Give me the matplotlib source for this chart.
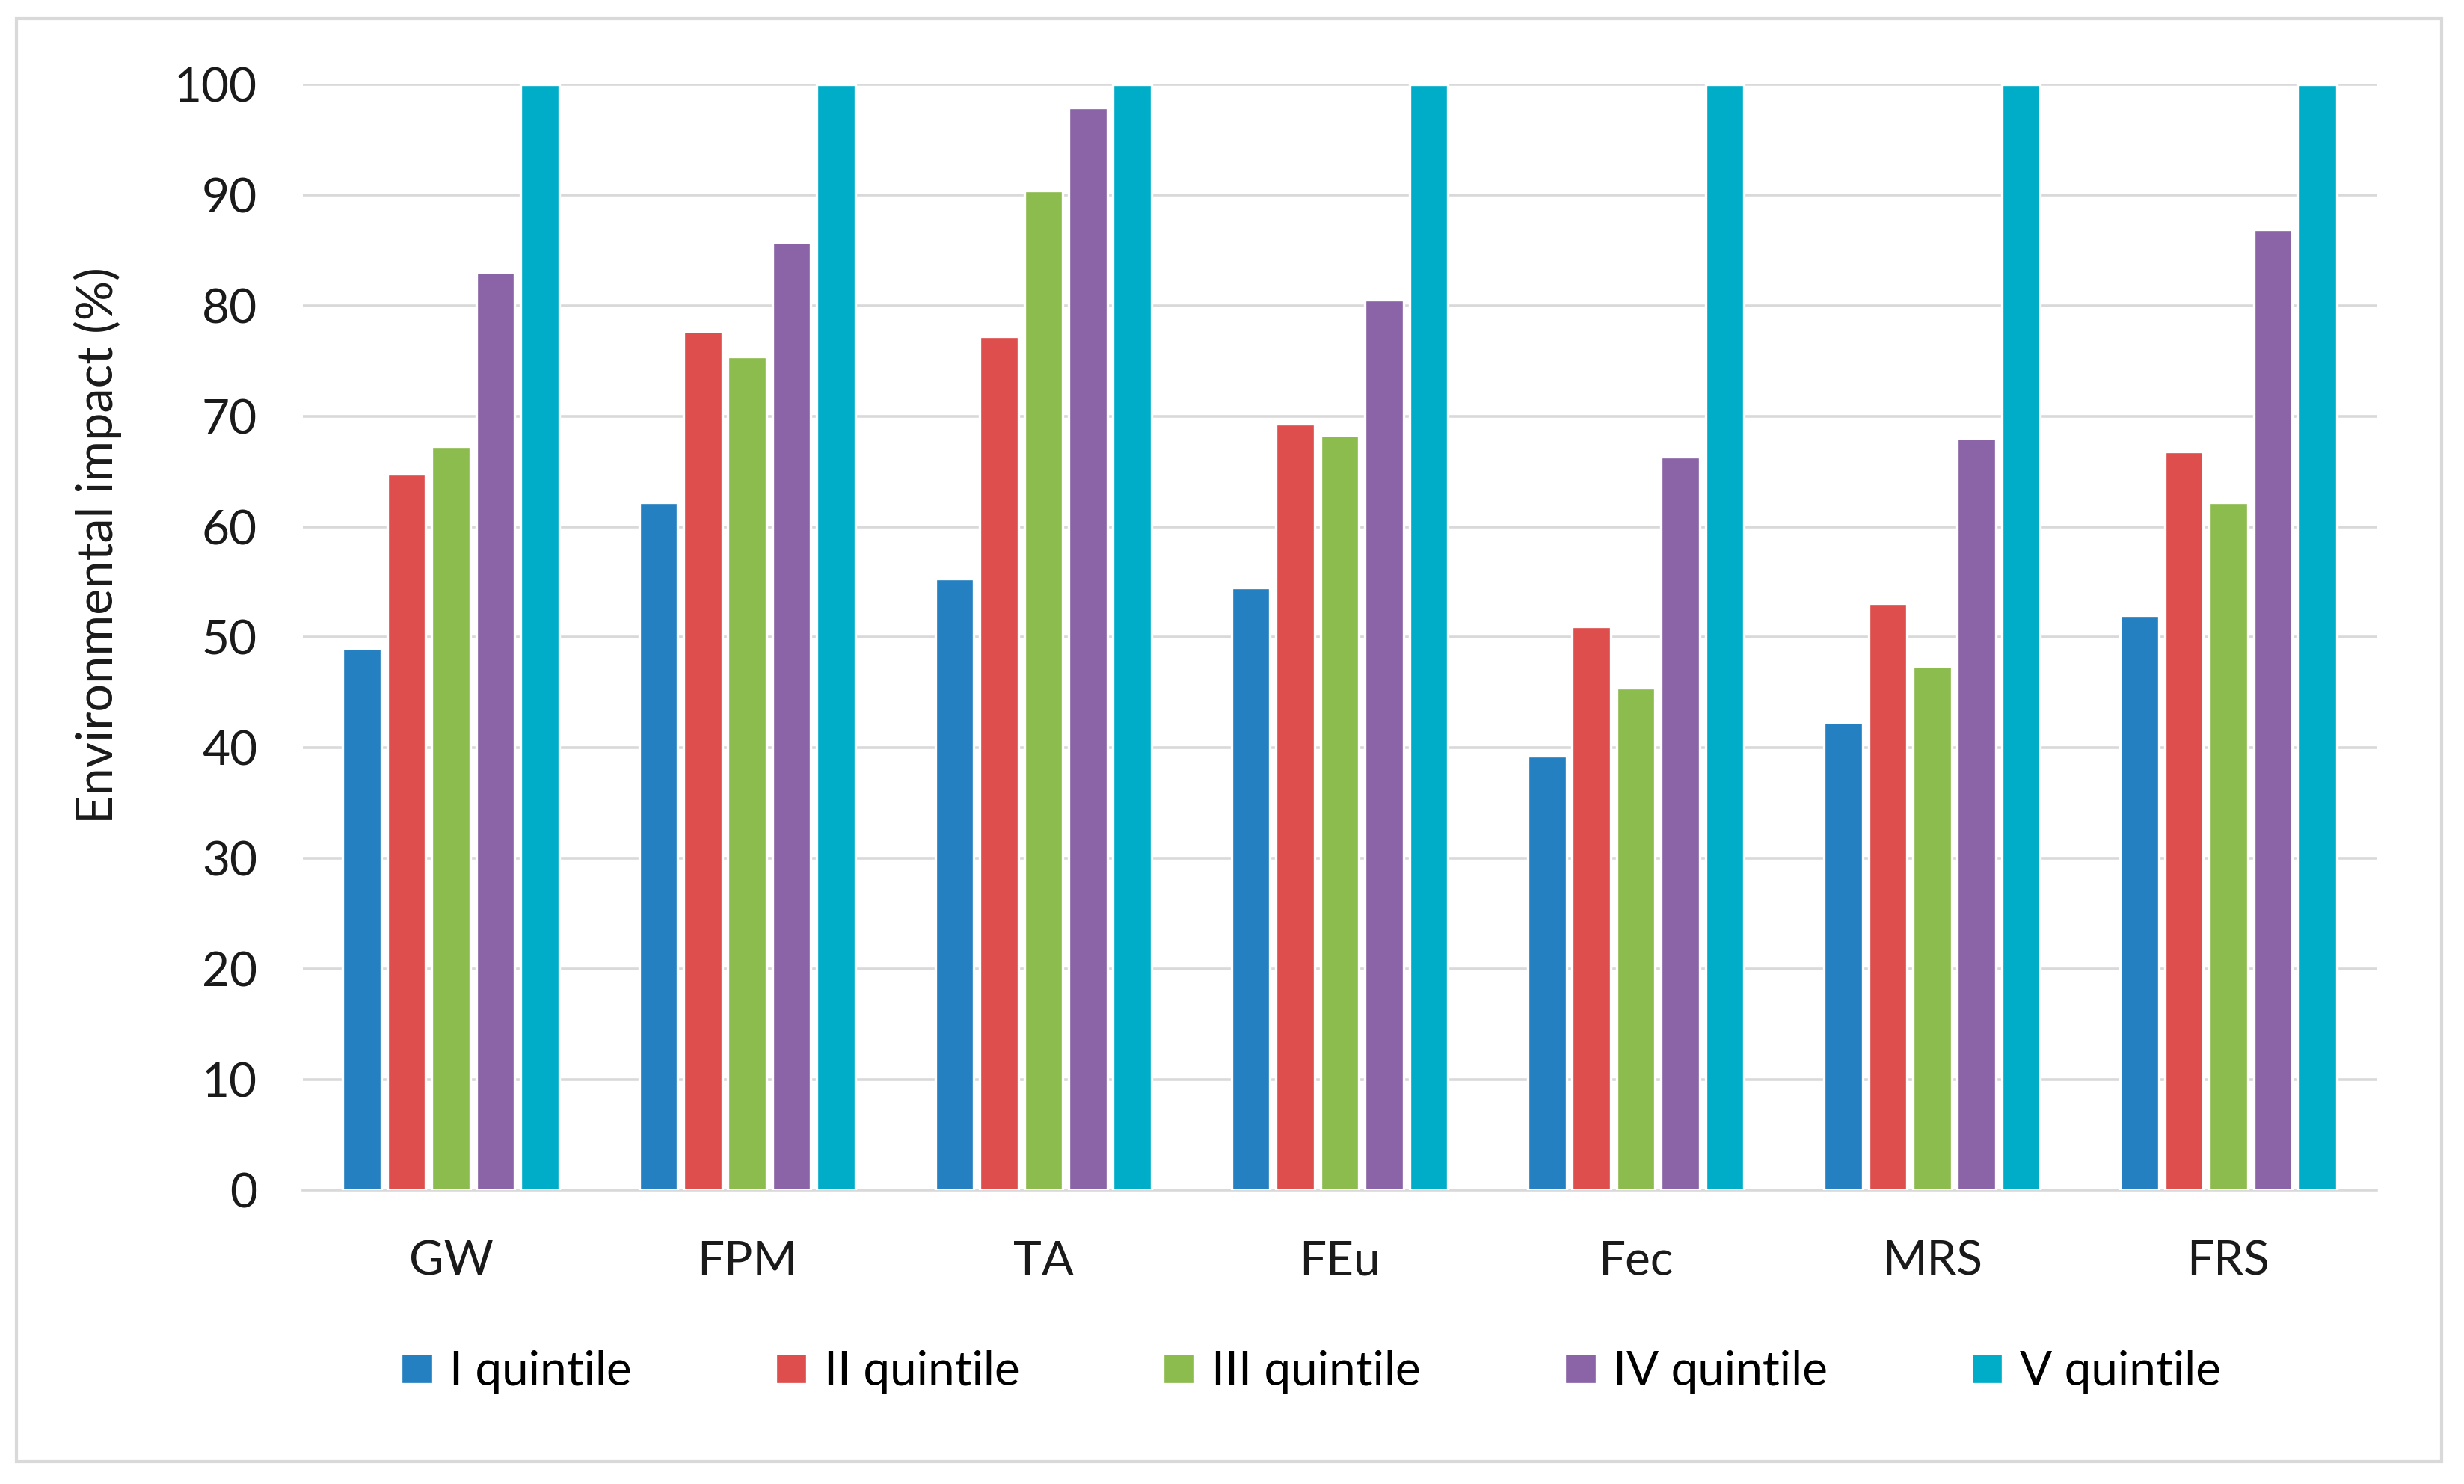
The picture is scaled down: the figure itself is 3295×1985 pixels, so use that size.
import matplotlib
matplotlib.use("Agg")
import matplotlib.pyplot as plt
import matplotlib.patches as patches
import numpy as np

# impact categories and quintile series (values in %)
categories = ["GW", "FPM", "TA", "FEu", "Fec", "MRS", "FRS"]
series_names = ["I quintile", "II quintile", "III quintile", "IV quintile", "V quintile"]
q1 = [49.0, 62.2, 55.3, 54.5, 39.3, 42.3, 52.0]
q2 = [64.8, 77.7, 77.2, 69.3, 51.0, 53.1, 66.8]
q3 = [67.3, 75.4, 90.4, 68.3, 45.4, 47.4, 62.2]
q4 = [83.0, 85.7, 97.9, 80.5, 66.3, 68.0, 86.9]
q5 = [100, 100, 100, 100, 100, 100, 100]
colors = ["#2480C0", "#DE4E4C", "#8CBB4E", "#8A64A6", "#00ADC8"]

plt.rcParams['font.family'] = ['Lato', 'DejaVu Sans']

fig = plt.figure(figsize=(16.475, 9.925), dpi=200)
ax = fig.add_axes([0.1229, 0.198, 0.9645 - 0.1229, 0.9431 - 0.198])

x = np.arange(len(categories))
width = 0.13
step = 0.15
for i, (vals, name) in enumerate(zip([q1, q2, q3, q4, q5], series_names)):
    offset = (i - 2) * step
    ax.bar(x + offset, vals, width, color=colors[i], edgecolor='white',
           linewidth=1.2, label=name, zorder=3)

ax.set_xlim(-0.5, len(categories) - 0.5)
ax.set_ylim(0, 100)
ax.set_yticks(range(0, 101, 10))
ax.set_xticks(x)
ax.set_xticklabels(categories)
ax.tick_params(axis='both', length=0, labelsize=23, colors='#1a1a1a')
ax.tick_params(axis='x', pad=24)
ax.tick_params(axis='y', pad=22)

ax.yaxis.grid(True, color='#D9D9D9', linewidth=1.3, zorder=0)
ax.set_axisbelow(True)
for s in ['top', 'right', 'left']:
    ax.spines[s].set_visible(False)
ax.spines['bottom'].set_color('#D9D9D9')
ax.spines['bottom'].set_linewidth(1.3)

ax.text(-0.099, 0.583, 'Environmental impact (%)', rotation=90,
        ha='center', va='center', fontsize=24, color='#1a1a1a',
        transform=ax.transAxes)

fig.legend(loc='center', bbox_to_anchor=(0.532, 0.0755), ncol=5,
           frameon=False, fontsize=23, handlelength=0.67, handleheight=0.62,
           handletextpad=0.35, columnspacing=3.0)

# light grey chart border
fig.patches.append(patches.Rectangle((22 / 3295, 1 - 1955 / 1985),
                                     (3265 - 22) / 3295, (1955 - 25) / 1985,
                                     transform=fig.transFigure, fill=False,
                                     edgecolor='#D9D9D9', linewidth=1.5))

fig.savefig('out.png', dpi=200, facecolor='white')
